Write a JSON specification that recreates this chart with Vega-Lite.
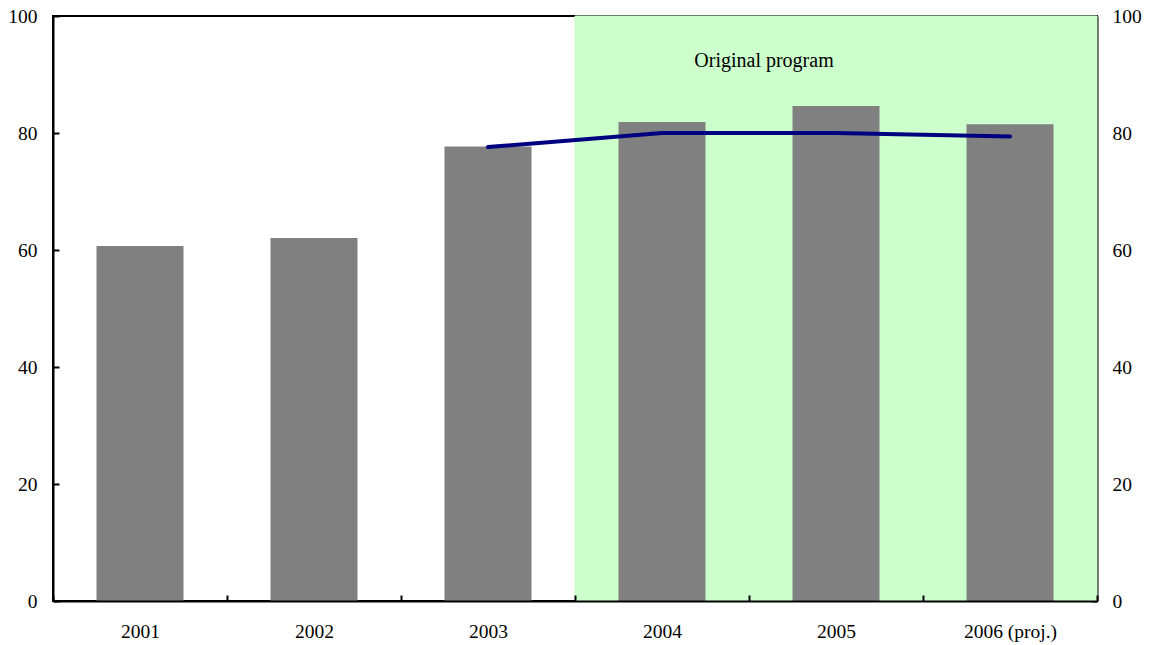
{
  "$schema": "https://vega.github.io/schema/vega-lite/v6.json",
  "width": 1044,
  "height": 585,
  "autosize": {"type": "none"},
  "padding": {"left": 53, "top": 16, "right": 54, "bottom": 44},
  "background": "white",
  "config": {
    "view": {"stroke": "black", "strokeWidth": 2},
    "font": "Liberation Serif",
    "axis": {
      "labelFont": "Liberation Serif",
      "labelFontSize": 19.5,
      "labelColor": "black",
      "domainColor": "black",
      "domainWidth": 2,
      "tickColor": "black",
      "tickWidth": 2,
      "grid": false,
      "title": null
    }
  },
  "data": {
    "values": [
      {"year": "2001", "value": 60.7, "program": null, "shade": false},
      {"year": "2002", "value": 62.05, "program": null, "shade": false},
      {"year": "2003", "value": 77.7, "program": 77.6, "shade": false},
      {"year": "2004", "value": 81.9, "program": 80.0, "shade": true},
      {"year": "2005", "value": 84.6, "program": 80.0, "shade": true},
      {"year": "2006 (proj.)", "value": 81.5, "program": 79.4, "shade": true}
    ]
  },
  "encoding": {
    "x": {
      "field": "year",
      "type": "nominal",
      "sort": ["2001", "2002", "2003", "2004", "2005", "2006 (proj.)"],
      "scale": {"paddingInner": 0, "paddingOuter": 0},
      "axis": {"labelAngle": 0, "tickBand": "extent", "tickSize": -6, "labelPadding": 27, "domainWidth": 2}
    }
  },
  "layer": [
    {
      "transform": [{"filter": "datum.shade"}],
      "mark": {"type": "rect", "color": "#CCFFCC", "stroke": "#CCFFCC", "strokeWidth": 1},
      "encoding": {
        "y": {"datum": 100, "type": "quantitative", "scale": {"domain": [0, 100]}, "axis": {"orient": "left", "values": [0, 20, 40, 60, 80, 100], "tickSize": -6, "labelPadding": 22}},
        "y2": {"datum": 0}
      }
    },
    {
      "mark": {"type": "bar", "color": "#808080", "width": {"band": 0.5}},
      "encoding": {
        "y": {"field": "value", "type": "quantitative", "scale": {"domain": [0, 100]}, "axis": {"orient": "right", "values": [0, 20, 40, 60, 80, 100], "tickSize": -6, "labelPadding": 21}}
      }
    },
    {
      "transform": [{"filter": "datum.program != null"}],
      "mark": {"type": "line", "color": "#000080", "strokeWidth": 4, "strokeCap": "round", "strokeJoin": "round"},
      "encoding": {
        "y": {"field": "program", "type": "quantitative", "axis": null}
      }
    },
    {
      "data": {"values": [{"year": "2004", "label": "Original program", "pos": 92.3}]},
      "mark": {"type": "text", "font": "Liberation Serif", "fontSize": 20, "color": "black", "dx": 15},
      "encoding": {
        "x": {"field": "year", "type": "nominal", "bandPosition": 1},
        "y": {"field": "pos", "type": "quantitative", "axis": null},
        "text": {"field": "label"}
      }
    }
  ],
  "resolve": {"axis": {"y": "independent"}}
}
